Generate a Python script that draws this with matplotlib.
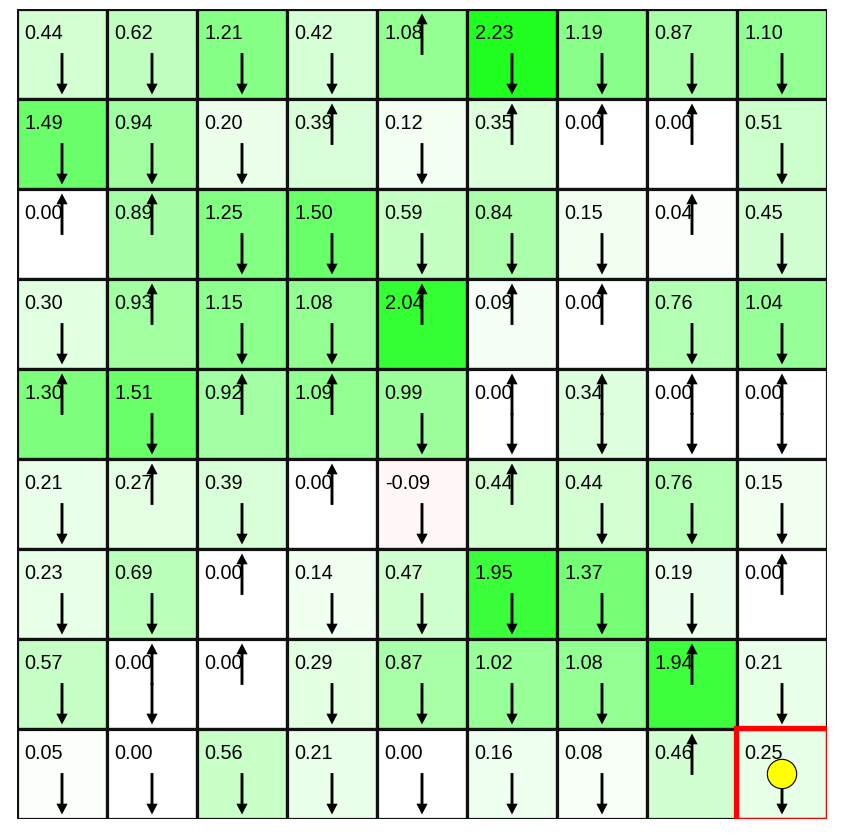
import numpy as np
import matplotlib
matplotlib.use("Agg")
import matplotlib.pyplot as plt
from matplotlib.patches import Rectangle, Circle

# state values, row by row (top to bottom)
values = [
    [0.44, 0.62, 1.21, 0.42, 1.08, 2.23, 1.19, 0.87, 1.10],
    [1.49, 0.94, 0.20, 0.39, 0.12, 0.35, 0.00, 0.00, 0.51],
    [0.00, 0.89, 1.25, 1.50, 0.59, 0.84, 0.15, 0.04, 0.45],
    [0.30, 0.93, 1.15, 1.08, 2.04, 0.09, 0.00, 0.76, 1.04],
    [1.30, 1.51, 0.92, 1.09, 0.99, 0.00, 0.34, 0.00, 0.00],
    [0.21, 0.27, 0.39, 0.00, -0.09, 0.44, 0.44, 0.76, 0.15],
    [0.23, 0.69, 0.00, 0.14, 0.47, 1.95, 1.37, 0.19, 0.00],
    [0.57, 0.00, 0.00, 0.29, 0.87, 1.02, 1.08, 1.94, 0.21],
    [0.05, 0.00, 0.56, 0.21, 0.00, 0.16, 0.08, 0.46, 0.25],
]

# policy per cell: U = up, D = down, B = both
policy = [
    "DDDDUDDDD",
    "DDDUDUUUD",
    "UUDDDDDUD",
    "DUDDUUUDD",
    "UDUUDBBBB",
    "DUDUDUDDD",
    "DDUDDDDDU",
    "DBUDDDDUD",
    "DDDDDDDUD",
]

agent = (8, 8)  # (row, col)


def cell_color(v, ms=100):
    if v >= 0:
        c = max(0, 255 - v * ms) / 255
        return (c, 1.0, c)
    c = max(0, 255 + v * ms) / 255
    return (1.0, c, c)


W, H = 848, 834
fig = plt.figure(figsize=(W / 100, H / 100), dpi=100)
ax = fig.add_axes([17 / W, (H - 819) / H, 810 / W, 810 / H])
ax.set_xlim(0, 9)
ax.set_ylim(9, 0)
ax.axis("off")

n = len(values)
for r in range(n):
    for c in range(n):
        v = values[r][c]
        ax.add_patch(Rectangle((c, r), 1, 1, facecolor=cell_color(v),
                               edgecolor="#111111", lw=2.3))
        ax.text(c + 0.085, r + 0.335, "%.2f" % v, fontsize=14.3,
                family="Liberation Sans", va="baseline", ha="left")

arrow_kw = dict(width=0.032, head_width=0.125, head_length=0.12,
                length_includes_head=True, fc="black", ec="black", lw=0)
for r in range(n):
    for c in range(n):
        p = policy[r][c]
        cx, cy = c + 0.5, r + 0.5
        if p in "DB":
            ax.arrow(cx, cy - 0.01, 0, 0.46, **arrow_kw)
        if p in "UB":
            ax.arrow(cx, cy + 0.01, 0, -0.46, **arrow_kw)

ar, ac = agent
ax.add_patch(Rectangle((ac - 0.01, ar - 0.01), 1.02, 1.02, fill=False,
                       edgecolor="red", lw=3.8, zorder=5))
ax.add_patch(Circle((ac + 0.5, ar + 0.5), 0.163, facecolor="yellow",
                    edgecolor="black", lw=0.8, zorder=6))

fig.savefig("out.png", dpi=100)
